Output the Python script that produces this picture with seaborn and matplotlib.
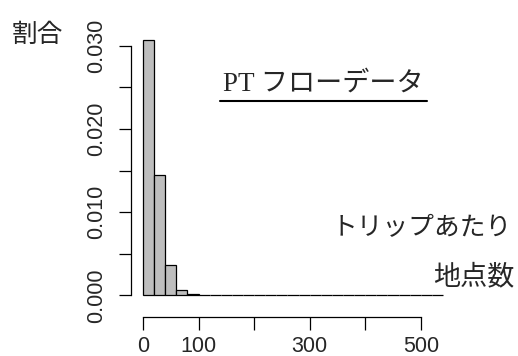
import matplotlib
matplotlib.use("Agg")
import matplotlib.pyplot as plt
import seaborn as sns
import numpy as np
from matplotlib.lines import Line2D

# data: density per 20-unit bin of "points per trip"
bin_edges = list(range(0, 560, 20))
density = [0.0307, 0.0145, 0.0036, 0.00065, 0.00018,
           0.00005, 0.00004, 0.00003, 0.00002, 0.00002,
           0.00001, 0.00001, 0.00001, 0.00001, 0.00001,
           0.0, 0.0, 0.0, 0.0, 0.0, 0.0, 0.0, 0.0, 0.0, 0.0, 0.0, 0.0]
bin_centers = [(a + b) / 2 for a, b in zip(bin_edges[:-1], bin_edges[1:])]
x_ticks = [0, 100, 200, 300, 400, 500]
x_ticklabels = ["0", "100", "", "300", "", "500"]
y_ticks = [0.000, 0.005, 0.010, 0.015, 0.020, 0.025, 0.030]
y_ticklabels = ["0.000", "", "0.010", "", "0.020", "", "0.030"]

sns.set_style("white")
plt.rcParams['font.family'] = ['Liberation Sans', 'Noto Sans CJK JP']

W, H = 518, 356
fig = plt.figure(figsize=(W / 100, H / 100), dpi=100)
left, right, top, bottom = 131, 455, 30, 305.5
ax = fig.add_axes([left / W, 1 - bottom / H, (right - left) / W, (bottom - top) / H])

sns.histplot(x=bin_centers, weights=density, bins=bin_edges, stat="count",
             color="#BEBEBE", edgecolor="black", linewidth=0.9, alpha=1,
             ax=ax)

ax.set_xlim(-21.6, 561.6)
ax.set_ylim(-0.00123, 0.0319)
ax.set_xlabel("")
ax.set_ylabel("")

for s in ["top", "right"]:
    ax.spines[s].set_visible(False)
ax.spines["left"].set_bounds(0, 0.030)
ax.spines["bottom"].set_bounds(0, 500)
ax.spines["bottom"].set_position(("outward", 8))
for s in ["left", "bottom"]:
    ax.spines[s].set_color("black")
    ax.spines[s].set_linewidth(0.9)

ax.set_xticks(x_ticks)
ax.set_xticklabels(x_ticklabels)
ax.set_yticks(y_ticks)
ax.set_yticklabels(y_ticklabels, rotation=90, va="center")
ax.tick_params(axis="both", which="major", length=9, width=0.9, color="black",
               direction="out", labelsize=15.5, bottom=True, left=True)
ax.tick_params(axis="x", pad=5)
ax.tick_params(axis="y", pad=8.5)

jp = ['Liberation Serif', 'Noto Sans CJK JP']
fig.text(37 / W, 1 - 35 / H, "割合", fontsize=18.5, ha="center", va="center",
         family=['Noto Sans CJK JP'])
t = fig.text(323 / W, 1 - 84 / H, "PT フローデータ", fontsize=19.5, ha="center",
             va="center", family=jp)
fig.add_artist(Line2D([220 / W, 427 / W], [1 - 101 / H, 1 - 101 / H],
                      color="black", linewidth=1.5, transform=fig.transFigure))
fig.text(512 / W, 1 - 229 / H, "トリップあたり", fontsize=18.5, ha="right",
         va="center", family=jp)
fig.text(515 / W, 1 - 277 / H, "地点数", fontsize=19.5, ha="right",
         va="center", family=jp)

fig.savefig("out.png", dpi=100)
